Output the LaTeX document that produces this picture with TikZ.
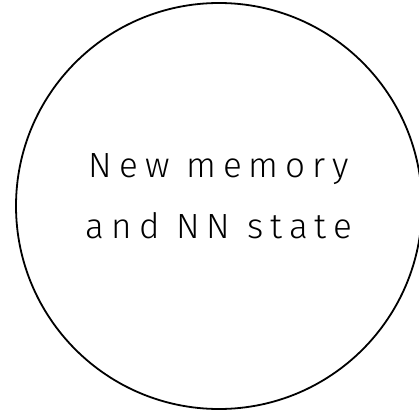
\documentclass[tikz,border=0pt]{standalone}
\usepackage{fontspec}
\usepackage{tikz}
\newfontfamily\handfont{Fira Sans}[UprightFont={* Light}, LetterSpace=20]
\tikzset{
  state/.style = {circle, draw=black, line width=1.8pt, minimum size=406pt, inner sep=0pt,
                  align=center, text depth=20pt, font=\handfont\fontsize{35}{61}\selectfont},
}
\begin{document}
\begin{tikzpicture}[x=1pt, y=-1pt]
  \useasboundingbox (0,0) rectangle (419,414);

  % the one state
  \node[state] (newstate) at (219,206) {New memory\\and NN state};
\end{tikzpicture}
\end{document}
